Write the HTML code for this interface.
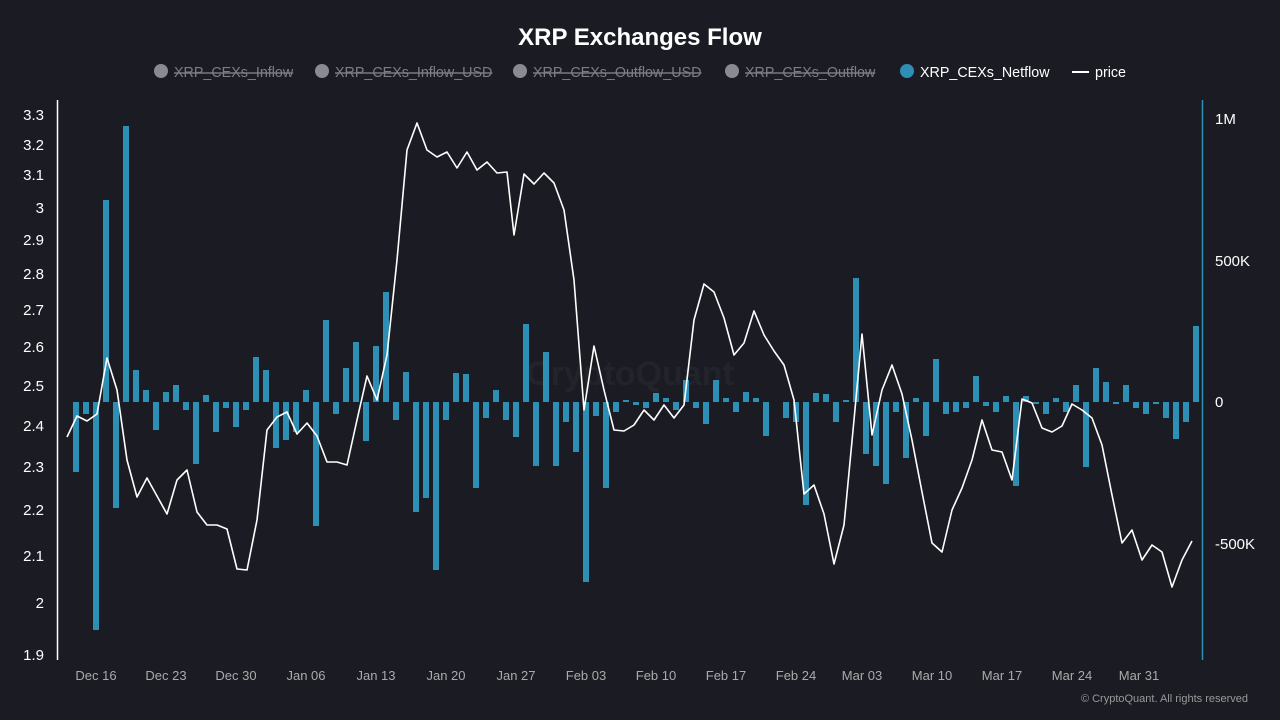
<!DOCTYPE html>
<html><head><meta charset="utf-8"><style>
html,body{margin:0;padding:0;background:#1b1c23;}
svg{display:block;font-family:"Liberation Sans",sans-serif;}
</style></head><body>
<svg id="s" width="1280" height="720" viewBox="0 0 1280 720">
<rect width="1280" height="720" fill="#1b1c23"/>
<text x="640" y="45" fill="#fff" font-size="24" font-weight="bold" text-anchor="middle">XRP Exchanges Flow</text>
<g font-size="14.3">
<circle cx="161" cy="71" r="7" fill="#8a8b92"/><text x="174" y="77" fill="#7d7e85" text-decoration="line-through">XRP_CEXs_Inflow</text>
<circle cx="322" cy="71" r="7" fill="#8a8b92"/><text x="335" y="77" fill="#7d7e85" text-decoration="line-through">XRP_CEXs_Inflow_USD</text>
<circle cx="520" cy="71" r="7" fill="#8a8b92"/><text x="533" y="77" fill="#7d7e85" text-decoration="line-through">XRP_CEXs_Outflow_USD</text>
<circle cx="732" cy="71" r="7" fill="#8a8b92"/><text x="745" y="77" fill="#7d7e85" text-decoration="line-through">XRP_CEXs_Outflow</text>
<circle cx="907" cy="71" r="7" fill="#2e8fb5"/><text x="920" y="77" fill="#fff">XRP_CEXs_Netflow</text>
<line x1="1072" y1="72" x2="1089" y2="72" stroke="#fff" stroke-width="2"/><text x="1095" y="77" fill="#fff">price</text>
</g>
<text x="630" y="385" fill="#23242b" font-size="34" font-weight="bold" text-anchor="middle">CryptoQuant</text>
<line x1="57.5" y1="100" x2="57.5" y2="660" stroke="#fff" stroke-width="1.5"/>
<line x1="1202.5" y1="100" x2="1202.5" y2="660" stroke="#2e8fb5" stroke-width="1.5"/>
<g fill="#fff" font-size="15" text-anchor="end">
<text x="44" y="120">3.3</text><text x="44" y="150">3.2</text><text x="44" y="180">3.1</text><text x="44" y="213">3</text><text x="44" y="245">2.9</text><text x="44" y="279">2.8</text><text x="44" y="315">2.7</text><text x="44" y="352">2.6</text><text x="44" y="391">2.5</text><text x="44" y="431">2.4</text><text x="44" y="472">2.3</text><text x="44" y="515">2.2</text><text x="44" y="561">2.1</text><text x="44" y="608">2</text><text x="44" y="660">1.9</text>
</g>
<g fill="#fff" font-size="15">
<text x="1215" y="124">1M</text><text x="1215" y="266">500K</text><text x="1215" y="407">0</text><text x="1215" y="549">-500K</text>
</g>
<g fill="#aaa" font-size="13" text-anchor="middle">
<text x="96" y="680">Dec 16</text><text x="166" y="680">Dec 23</text><text x="236" y="680">Dec 30</text><text x="306" y="680">Jan 06</text><text x="376" y="680">Jan 13</text><text x="446" y="680">Jan 20</text><text x="516" y="680">Jan 27</text><text x="586" y="680">Feb 03</text><text x="656" y="680">Feb 10</text><text x="726" y="680">Feb 17</text><text x="796" y="680">Feb 24</text><text x="862" y="680">Mar 03</text><text x="932" y="680">Mar 10</text><text x="1002" y="680">Mar 17</text><text x="1072" y="680">Mar 24</text><text x="1139" y="680">Mar 31</text>
</g>
<text x="1248" y="702" fill="#999" font-size="11" text-anchor="end">© CryptoQuant. All rights reserved</text>
<g id="bars" fill="#2e8fb5"></g>
<polyline id="price" fill="none" stroke="#fff" stroke-width="1.6" stroke-linejoin="round"/>
</svg>
<script>
var b=[472,414,630,200,508,126,370,390,430,392,385,410,464,395,432,408,427,410,357,370,448,440,432,390,526,320,414,368,342,441,346,292,420,372,512,498,570,420,373,374,488,418,390,420,437,324,466,352,466,422,452,582,416,488,412,400,405,408,393,398,410,380,408,424,380,398,412,392,398,436,402,418,422,505,393,394,422,400,278,454,466,484,412,458,398,436,359,414,412,408,376,406,412,396,486,396,404,414,398,412,385,467,368,382,404,385,408,414,404,418,439,422,326];
var g=document.getElementById('bars'),h='',base=402;
for(var i=0;i<b.length;i++){var x=76+i*10-3,y=Math.min(b[i],base),hh=Math.abs(b[i]-base);h+='<rect x="'+x+'" y="'+y+'" width="6" height="'+hh+'"/>';}
g.innerHTML=h;
var p=[[67,437],[77,416],[87,421],[97,414],[107,358],[117,390],[127,460],[137,497],[147,478],[157,496],[167,514],[177,480],[187,470],[197,512],[207,525],[217,525],[227,529],[237,569],[247,570],[257,520],[267,430],[277,417],[287,412],[297,434],[307,423],[317,436],[327,462],[337,462],[347,465],[357,420],[367,376],[377,400],[387,355],[397,260],[407,150],[417,123],[427,150],[437,157],[447,152],[457,168],[467,152],[477,170],[487,162],[497,173],[507,172],[514,235],[524,174],[534,184],[544,173],[554,183],[564,210],[574,280],[584,410],[594,346],[604,390],[614,430],[624,431],[634,425],[644,410],[654,420],[664,405],[674,418],[684,405],[694,320],[704,284],[714,292],[724,318],[734,355],[744,343],[754,311],[764,335],[774,351],[784,365],[794,400],[804,494],[814,485],[824,514],[834,564],[844,525],[854,420],[862,334],[872,435],[882,390],[892,365],[902,394],[912,440],[922,492],[932,543],[942,552],[952,510],[962,488],[972,460],[982,420],[992,450],[1002,452],[1012,480],[1022,399],[1032,403],[1042,428],[1052,432],[1062,426],[1072,404],[1082,410],[1092,418],[1102,445],[1112,495],[1122,543],[1132,530],[1142,560],[1152,545],[1162,552],[1172,587],[1182,560],[1192,541]];
document.getElementById('price').setAttribute('points',p.map(function(q){return q.join(',')}).join(' '));
</script>
</body></html>
